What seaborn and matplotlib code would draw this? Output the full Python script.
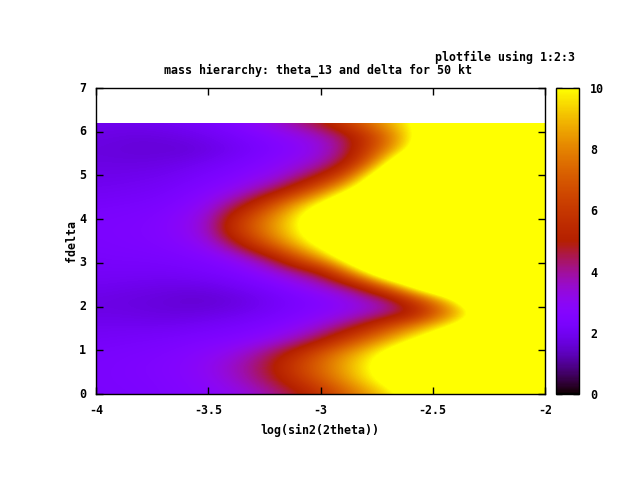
import numpy as np
import pandas as pd
import matplotlib
matplotlib.use("Agg")
import matplotlib.pyplot as plt
from matplotlib.colors import ListedColormap
from matplotlib.patches import Rectangle
import seaborn as sns

log_s = [-4.0,-3.9,-3.8,-3.7,-3.6,-3.5,-3.4,-3.3,-3.2,-3.1,-3.0,-2.9,-2.8,-2.7,-2.6,-2.5,-2.4,-2.3,-2.2,-2.1,-2.0]
fdelta = [0,.31,.62,.93,1.24,1.55,1.86,2.17,2.48,2.79,3.10,3.41,3.72,4.03,4.34,4.65,4.96,5.27,5.58,5.89,6.2]
chi2 = [
 [2.3,2.35,2.4,2.5,2.6,2.75,3.0,3.4,4.0,4.7,5.7,7.0,8.2,9.4,10.7,12,13,14,15,16,17],
 [2.35,2.4,2.45,2.55,2.7,2.95,3.4,4.0,4.75,5.85,7.0,8.2,9.5,10.7,12,13,14,15,15,16,17],
 [2.35,2.4,2.5,2.6,2.75,3.1,3.6,4.2,5.2,6.4,7.5,8.7,9.9,11,12,13,14,15,15,16,17],
 [2.3,2.35,2.4,2.5,2.65,2.85,3.2,3.8,4.6,5.7,7,8.2,9.4,10.7,12,13,14,15,15,16,17],
 [2.15,2.2,2.25,2.3,2.4,2.5,2.6,2.8,3.2,3.8,4.8,6.1,7.4,8.7,10,11.3,12.5,14,15,16,17],
 [2.0,2.0,2.0,2.0,2.05,2.15,2.25,2.4,2.6,2.9,3.4,4.2,5.25,6.6,7.9,9.2,10.5,11.7,13,14,15],
 [1.8,1.8,1.75,1.7,1.7,1.75,1.85,2.0,2.2,2.45,2.7,3.0,3.4,3.9,4.6,6.4,8.4,10.4,13,14,15],
 [1.8,1.75,1.7,1.65,1.55,1.55,1.65,1.85,2.1,2.35,2.6,3.0,3.5,4.2,6.0,8.0,10.2,12.8,14,15,16],
 [2.0,1.95,1.9,1.85,1.85,1.9,2.05,2.25,2.5,2.9,3.5,4.2,5.7,8.0,10.7,13,14,15,16,16,17],
 [2.15,2.15,2.15,2.15,2.2,2.3,2.45,2.75,3.3,4.1,5.0,7.4,10.2,13,14,15,16,16,17,17,17],
 [2.25,2.3,2.3,2.35,2.45,2.6,2.95,3.7,5.0,6.8,8.6,10.8,13,14,15,16,16,17,17,17,17],
 [2.35,2.4,2.45,2.55,2.75,3.2,4.3,5.9,7.5,9.1,10.6,12.2,14,15,15,16,16,17,17,17,17],
 [2.4,2.45,2.5,2.65,3.0,3.7,5.6,7.1,8.6,10,11.5,13,14,15,15,16,16,17,17,17,17],
 [2.35,2.4,2.45,2.6,2.95,3.6,5.3,6.9,8.4,10,11.6,13,14,15,15,16,16,17,17,17,17],
 [2.2,2.25,2.3,2.4,2.65,3.1,4.0,5.3,7,8.7,10.3,12,13.5,14.5,15,16,16,17,17,17,17],
 [2.0,2.05,2.1,2.2,2.4,2.65,3.0,3.6,4.5,5.9,7.6,9.6,11.6,13,14,15,15,16,16,17,17],
 [1.9,1.9,1.95,2.0,2.15,2.35,2.55,2.85,3.2,4.0,5.1,6.8,9.8,12.5,14,15,15,16,16,17,17],
 [1.75,1.75,1.75,1.8,1.9,2.05,2.25,2.5,2.8,3.15,3.7,4.8,7.0,10.2,13,14,15,15,16,16,17],
 [1.7,1.65,1.6,1.6,1.6,1.75,1.95,2.2,2.5,2.8,3.3,4.2,6.0,8.0,10.2,12.3,14,15,15,16,16],
 [1.8,1.75,1.7,1.75,1.85,2.0,2.2,2.45,2.75,3.1,3.6,4.4,5.8,7.6,9.8,11.5,12.8,14,15,15,16],
 [1.95,1.95,2.0,2.05,2.15,2.3,2.55,3.0,3.5,4.2,5.0,6.3,7.6,8.9,10.1,11.4,12.7,14,15,15,16],
]
x_ticks = [-4,-3.5,-3,-2.5,-2]
x_labels = ["-4","-3.5","-3","-2.5","-2"]
y_ticks = [0,1,2,3,4,5,6,7]
c_ticks = [0,2,4,6,8,10]
title_text = "mass hierarchy: theta_13 and delta for 50 kt"
key_text = "plotfile using 1:2:3"
x_title = "log(sin2(2theta))"
y_title = "fdelta"

sns.set_theme(style="white")
plt.rcParams['font.family'] = ['DejaVu Sans Mono']
plt.rcParams['font.weight'] = 'bold'
plt.rcParams['font.size'] = 8.4
plt.rcParams['xtick.labelsize'] = 8.4
plt.rcParams['ytick.labelsize'] = 8.4
plt.rcParams['text.color'] = 'black'
plt.rcParams['axes.labelcolor'] = 'black'
plt.rcParams['xtick.color'] = 'black'
plt.rcParams['ytick.color'] = 'black'

t = np.linspace(0, 1, 256)
palette = ListedColormap(np.c_[np.sqrt(t), t**3, np.clip(np.sin(2*np.pi*t), 0, 1)])

W, H = 640, 480
fig = plt.figure(figsize=(6.4, 4.8), dpi=100, facecolor='white')
ax = fig.add_axes([96/W, 1-394/H, 449/W, 306/H])
cax = fig.add_axes([556/W, 1-394/H, 23/W, 306/H])

df = pd.DataFrame(chi2, index=fdelta, columns=log_s)
sns.heatmap(df, ax=ax, cbar_ax=cax, cmap=palette, vmin=0, vmax=10, cbar=True)
mesh = ax.collections[0]
nx, ny = df.shape[1], df.shape[0]
dx = log_s[1]-log_s[0]
dy = fdelta[1]-fdelta[0]
im = ax.imshow(df.values, cmap=palette, vmin=0, vmax=10, origin='lower', aspect='auto',
               extent=(0, nx, 0, ny), interpolation='bicubic', interpolation_stage='data', zorder=1.5)
clip = Rectangle((0.5, 0.5), nx-1, ny-1, transform=ax.transData)
im.set_clip_path(clip)
mesh.set_clip_path(clip)

px = lambda v: (v-log_s[0])/dx+0.5
py = lambda v: v/dy+0.5
ax.set_xlim(px(-4), px(-2))
ax.set_ylim(py(0), py(7))
ax.set_xticks([px(v) for v in x_ticks])
ax.set_xticklabels(x_labels, rotation=0)
ax.set_yticks([py(v) for v in y_ticks])
ax.set_yticklabels([str(v) for v in y_ticks], rotation=0)
ax.tick_params(direction='in', length=5, width=1, top=True, right=True, bottom=True, left=True, labelsize=8.4)
ax.tick_params(axis='x', pad=7)
ax.tick_params(axis='y', pad=7)
ax.set_xlabel("")
ax.set_ylabel("")
ax.set_axisbelow(False)
for s in ax.spines.values():
    s.set_visible(True)
    s.set_color('black')
    s.set_linewidth(1)

cbar = mesh.colorbar
cbar.set_ticks(c_ticks)
cbar.set_ticklabels([str(v) for v in c_ticks])
cax.tick_params(direction='in', length=4, width=1, left=True, right=True, color='black', pad=8, labelsize=8.4)
cbar.outline.set_visible(True)
cbar.outline.set_edgecolor('black')
cbar.outline.set_linewidth(1)

fig.text(318/W, 1-70/H, title_text, ha='center', va='center')
fig.text(505/W, 1-57/H, key_text, ha='center', va='center')
fig.text(320/W, 1-430/H, x_title, ha='center', va='center')
fig.text(72/W, 1-241/H, y_title, ha='center', va='center', rotation=90)

fig.savefig("out.png", dpi=100)
